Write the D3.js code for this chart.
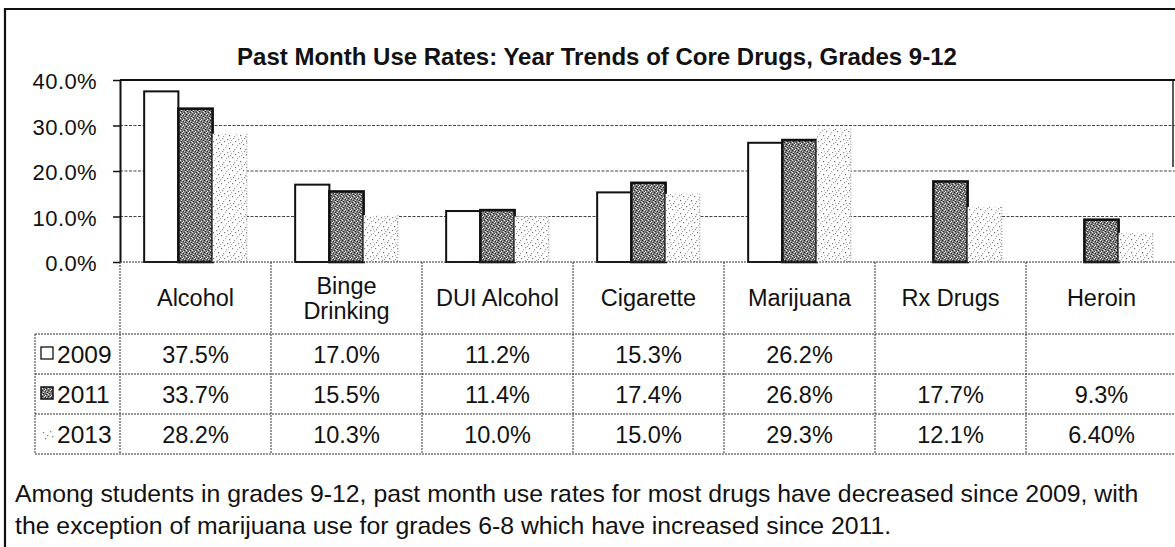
<!DOCTYPE html>
<html><head><meta charset="utf-8">
<script src="https://cdn.jsdelivr.net/npm/d3@7"></script>
<style>
body{margin:0;background:#fff}
svg{display:block}
text{font-family:"Liberation Sans",Arial,sans-serif;fill:#111}
</style>
</head><body>
<svg id="c" width="1175" height="547"></svg>
<script>
// ---------- data ----------
const categories = ["Alcohol", "Binge\nDrinking", "DUI Alcohol", "Cigarette", "Marijuana", "Rx Drugs", "Heroin"];
const years = ["2009", "2011", "2013"];
const values2009 = [37.5, 17.0, 11.2, 15.3, 26.2, null, null];
const values2011 = [33.7, 15.5, 11.4, 17.4, 26.8, 17.7, 9.3];
const values2013 = [28.2, 10.3, 10.0, 15.0, 29.3, 12.1, 6.40];
const labels2009 = ["37.5%", "17.0%", "11.2%", "15.3%", "26.2%", "", ""];
const labels2011 = ["33.7%", "15.5%", "11.4%", "17.4%", "26.8%", "17.7%", "9.3%"];
const labels2013 = ["28.2%", "10.3%", "10.0%", "15.0%", "29.3%", "12.1%", "6.40%"];
const yTicks = [0, 10, 20, 30, 40];
const title = "Past Month Use Rates: Year Trends of Core Drugs, Grades 9-12";
const note = [
  "Among students in grades 9-12, past month use rates for most drugs have decreased since 2009, with",
  "the exception of marijuana use for grades 6-8 which have increased since 2011."
];

const series = {"2009": values2009, "2011": values2011, "2013": values2013};
const tableLabels = {"2009": labels2009, "2011": labels2011, "2013": labels2013};

// ---------- layout ----------
const W = 1175, H = 547;
const plotL = 120, plotR = 1177, plotT = 80, plotB = 262;
const tableB = 454, legendL = 35;

const svg = d3.select("#c");
const defs = svg.append("defs");

// 2011 texture: dark grey dithered
const p11 = defs.append("pattern").attr("id", "p11").attr("patternUnits", "userSpaceOnUse")
  .attr("width", 6).attr("height", 6);
p11.append("rect").attr("width", 6).attr("height", 6).attr("fill", "#7c7c7c");
[[0,0,"#222"],[3,1,"#333"],[1,3,"#222"],[4,4,"#333"],[2,5,"#444"],[5,2,"#2a2a2a"],
 [2,0,"#eee"],[5,3,"#ddd"],[0,4,"#e6e6e6"],[3,5,"#f2f2f2"],[4,1,"#ccc"],[1,2,"#d8d8d8"]]
  .forEach(([x,yy,c]) => p11.append("rect").attr("x", x).attr("y", yy).attr("width", 1).attr("height", 1).attr("fill", c));

// 2013 texture: sparse stipple
const p13 = defs.append("pattern").attr("id", "p13").attr("patternUnits", "userSpaceOnUse")
  .attr("width", 11).attr("height", 13);
p13.append("rect").attr("width", 11).attr("height", 13).attr("fill", "#fff");
[[1,1,"#777"],[6,2,"#aaa"],[9,5,"#666"],[3,6,"#999"],[7,9,"#888"],[0,10,"#aaa"],
 [4,11,"#777"],[10,12,"#999"],[5,4,"#bbb"],[2,8,"#888"],[8,0,"#999"],[10,8,"#bbb"]]
  .forEach(([x,yy,c]) => p13.append("rect").attr("x", x).attr("y", yy).attr("width", 1.2).attr("height", 1.2).attr("fill", c));

const fills = {"2009": "#fff", "2011": "url(#p11)", "2013": "url(#p13)"};

// ---------- scales ----------
const x = d3.scaleBand().domain(categories).range([plotL, plotR]).padding(0);
const bw = x.bandwidth();
const xs = d3.scaleBand().domain(years).range([bw * 0.16, bw * 0.84]).padding(0);
const y = d3.scaleLinear().domain([0, 40]).range([plotB, plotT]);
const rowY = d3.scaleBand().domain(years).range([334, tableB]).padding(0);

// ---------- outer frame ----------
svg.append("path").attr("d", `M5,${H} V9 H${W}`).attr("fill", "none")
  .attr("stroke", "#111").attr("stroke-width", 2.2);
svg.append("line").attr("x1", 1173).attr("x2", 1173).attr("y1", y(40)).attr("y2", 167)
  .attr("stroke", "#222").attr("stroke-width", 1.5);

// ---------- title ----------
svg.append("text").attr("x", 597).attr("y", 65).attr("text-anchor", "middle")
  .attr("font-weight", "bold").attr("font-size", 24).text(title);

// ---------- gridlines ----------
svg.append("g").selectAll("line").data(yTicks.filter(t => t > 0 && t < 40)).join("line")
  .attr("x1", plotL).attr("x2", W).attr("y1", d => y(d)).attr("y2", d => y(d))
  .attr("stroke", "#444").attr("stroke-width", 1).attr("stroke-dasharray", "3,1.5");
svg.append("line").attr("x1", plotL).attr("x2", W).attr("y1", y(40)).attr("y2", y(40))
  .attr("stroke", "#111").attr("stroke-width", 2);

// ---------- bars ----------
const bars = [];
categories.forEach((c, i) => years.forEach(yr => {
  const v = series[yr][i];
  if (v != null) bars.push({c, yr, v});
}));
svg.append("g").selectAll("rect").data(bars).join("rect")
  .attr("x", d => x(d.c) + xs(d.yr))
  .attr("y", d => y(d.v))
  .attr("width", xs.bandwidth())
  .attr("height", d => y(0) - y(d.v))
  .attr("fill", d => fills[d.yr])
  .attr("stroke", d => d.yr === "2013" ? "none" : "#111")
  .attr("stroke-width", d => d.yr === "2011" ? 2.6 : 2);
// dotted right edge on 2013 bars
svg.append("g").selectAll("line").data(bars.filter(d => d.yr === "2013")).join("line")
  .attr("x1", d => x(d.c) + xs(d.yr) + xs.bandwidth()).attr("x2", d => x(d.c) + xs(d.yr) + xs.bandwidth())
  .attr("y1", d => y(d.v)).attr("y2", y(0))
  .attr("stroke", "#888").attr("stroke-width", 1).attr("stroke-dasharray", "1,2");

// ---------- y axis ----------
const yAxis = svg.append("g").attr("transform", `translate(${plotL},0)`)
  .call(d3.axisLeft(y).tickValues(yTicks).tickSize(7).tickSizeOuter(0).tickPadding(16)
    .tickFormat(d => d.toFixed(1) + "%"));
yAxis.select(".domain").attr("stroke", "#111").attr("stroke-width", 2);
yAxis.selectAll(".tick line").attr("stroke", "#111").attr("stroke-width", 1.5);
yAxis.selectAll(".tick text").attr("font-family", "'DejaVu Sans', sans-serif")
  .attr("font-size", 22).attr("letter-spacing", 0.4).attr("fill", "#222").attr("dy", "0.4em");

// ---------- table ----------
const tbl = svg.append("g").attr("stroke", "#333").attr("stroke-width", 1).attr("stroke-dasharray", "2,1");
tbl.append("line").attr("x1", plotL).attr("x2", W).attr("y1", y(0)).attr("y2", y(0));
tbl.selectAll(".h").data(years.map(r => rowY(r)).concat([tableB])).join("line")
  .attr("x1", legendL).attr("x2", W).attr("y1", d => d).attr("y2", d => d);
tbl.selectAll(".v").data(categories).join("line")
  .attr("x1", d => x(d)).attr("x2", d => x(d)).attr("y1", y(0)).attr("y2", tableB);
tbl.append("line").attr("x1", legendL).attr("x2", legendL).attr("y1", rowY(years[0])).attr("y2", tableB);

// header labels
const hdr = svg.append("g").attr("font-size", 23.5).attr("text-anchor", "middle");
categories.forEach(c => {
  const lines = c.split("\n");
  lines.forEach((ln, i) => {
    hdr.append("text").attr("x", x(c) + bw / 2)
      .attr("y", 298 + 8 + (i - (lines.length - 1) / 2) * 25).text(ln);
  });
});

// values
const vals = svg.append("g").attr("font-size", 23.5).attr("text-anchor", "middle");
years.forEach(yr => categories.forEach((c, i) => {
  const t = tableLabels[yr][i];
  if (t) vals.append("text").attr("x", x(c) + bw / 2)
    .attr("y", rowY(yr) + rowY.bandwidth() / 2 + 8.5).text(t);
}));

// legend in table
years.forEach(yr => {
  const cy = rowY(yr) + rowY.bandwidth() / 2;
  if (yr === "2013") {
    [[43,cy-2],[47,cy+1],[50,cy-3],[45,cy+4],[52,cy+2]].forEach(([px,py]) =>
      svg.append("rect").attr("x", px).attr("y", py).attr("width", 1.3).attr("height", 1.3).attr("fill", "#888"));
  } else {
    svg.append("rect").attr("x", 41).attr("y", cy - 7).attr("width", 12).attr("height", 12)
      .attr("fill", fills[yr]).attr("stroke", "#111").attr("stroke-width", yr === "2011" ? 1.5 : 1.3);
  }
  svg.append("text").attr("x", 57).attr("y", cy + 8.5).attr("font-size", 24.5).text(yr);
});

// ---------- footnote ----------
svg.append("g").attr("font-size", 24.8).selectAll("text").data(note).join("text")
  .attr("x", 15).attr("y", (d, i) => 502 + i * 32).text(d => d);
</script>
</body></html>
